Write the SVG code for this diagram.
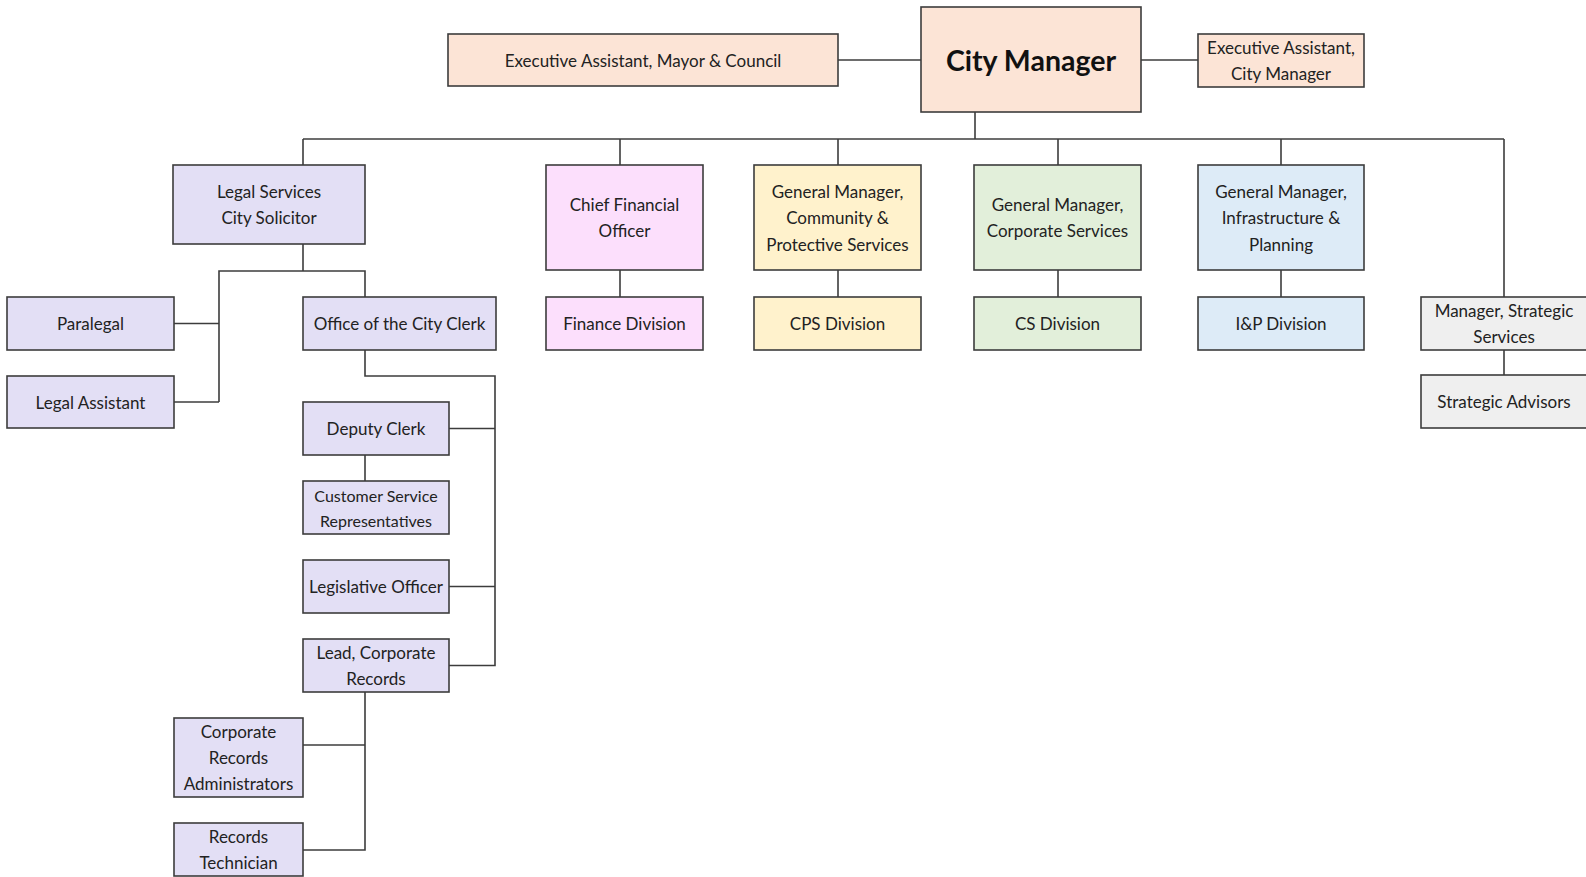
<svg xmlns="http://www.w3.org/2000/svg" width="1586" height="877" viewBox="0 0 1586 877">
<style>
.b{stroke:#3c3c3c;stroke-width:1.6}
.peach{fill:#fce4d6}.lav{fill:#e3dff5}.pink{fill:#fcdffc}.yel{fill:#fff2cc}.grn{fill:#e2efda}.blu{fill:#ddebf7}.gry{fill:#efefef}
text{font-family:Lato,"Open Sans","Liberation Sans",sans-serif;font-size:17px;fill:#222;text-anchor:middle;dominant-baseline:central}
.big{font-size:28.5px;font-weight:bold;fill:#111}
.sm{font-size:16px}
.c line,.c polyline{stroke:#3c3c3c;stroke-width:1.6;fill:none}
</style>
<rect width="1586" height="877" fill="#fff"/>
<g class="c" id="connectors">
<line x1="838" y1="60" x2="921" y2="60"/>
<line x1="1141" y1="60" x2="1198" y2="60"/>
<line x1="975" y1="112" x2="975" y2="139"/>
<line x1="303" y1="139" x2="1504" y2="139"/>
<line x1="303" y1="139" x2="303" y2="165"/>
<line x1="620" y1="139" x2="620" y2="165"/>
<line x1="838" y1="139" x2="838" y2="165"/>
<line x1="1058" y1="139" x2="1058" y2="165"/>
<line x1="1281" y1="139" x2="1281" y2="165"/>
<line x1="1504" y1="139" x2="1504" y2="297"/>
<line x1="620" y1="270" x2="620" y2="297"/>
<line x1="838" y1="270" x2="838" y2="297"/>
<line x1="1058" y1="270" x2="1058" y2="297"/>
<line x1="1281" y1="270" x2="1281" y2="297"/>
<line x1="1504" y1="350" x2="1504" y2="375"/>
<line x1="303" y1="244" x2="303" y2="271"/>
<polyline points="219,402 219,271 365,271 365,297"/>
<line x1="174" y1="323.5" x2="219" y2="323.5"/>
<line x1="174" y1="402" x2="219" y2="402"/>
<polyline points="365,350 365,376 495,376 495,665.5 449,665.5"/>
<line x1="449" y1="428.5" x2="495" y2="428.5"/>
<line x1="449" y1="586.5" x2="495" y2="586.5"/>
<line x1="365" y1="455" x2="365" y2="481"/>
<polyline points="365,692 365,850 303,850"/>
<line x1="303" y1="745" x2="365" y2="745"/>
</g>
<g id="exec-mayor"><rect class="b peach" x="448" y="34" width="390" height="52"/><text x="643" y="60">Executive Assistant, Mayor &amp; Council</text></g>
<g id="city-manager"><rect class="b peach" x="921" y="7" width="220" height="105"/><text class="big" x="1031" y="60">City Manager</text></g>
<g id="exec-cm"><rect class="b peach" x="1198" y="34" width="166" height="53"/><text x="1281" y="47.5">Executive Assistant,</text><text x="1281" y="73.5">City Manager</text></g>
<g id="legal"><rect class="b lav" x="173" y="165" width="192" height="79"/><text x="269" y="191.5">Legal Services</text><text x="269" y="217.5">City Solicitor</text></g>
<g id="cfo"><rect class="b pink" x="546" y="165" width="157" height="105"/><text x="624.5" y="204">Chief Financial</text><text x="624.5" y="230">Officer</text></g>
<g id="cps"><rect class="b yel" x="754" y="165" width="167" height="105"/><text x="837.5" y="191">General Manager,</text><text x="837.5" y="217.5">Community &amp;</text><text x="837.5" y="244">Protective Services</text></g>
<g id="cs"><rect class="b grn" x="974" y="165" width="167" height="105"/><text x="1057.5" y="204">General Manager,</text><text x="1057.5" y="230">Corporate Services</text></g>
<g id="inp"><rect class="b blu" x="1198" y="165" width="166" height="105"/><text x="1281" y="191">General Manager,</text><text x="1281" y="217.5">Infrastructure &amp;</text><text x="1281" y="244">Planning</text></g>
<g id="paralegal"><rect class="b lav" x="7" y="297" width="167" height="53"/><text x="90.5" y="323.5">Paralegal</text></g>
<g id="legal-assistant"><rect class="b lav" x="7" y="376" width="167" height="52"/><text x="90.5" y="402">Legal Assistant</text></g>
<g id="city-clerk"><rect class="b lav" x="303" y="297" width="193" height="53"/><text x="399.5" y="323.5">Office of the City Clerk</text></g>
<g id="finance"><rect class="b pink" x="546" y="297" width="157" height="53"/><text x="624.5" y="323.5">Finance Division</text></g>
<g id="cps-div"><rect class="b yel" x="754" y="297" width="167" height="53"/><text x="837.5" y="323.5">CPS Division</text></g>
<g id="cs-div"><rect class="b grn" x="974" y="297" width="167" height="53"/><text x="1057.5" y="323.5">CS Division</text></g>
<g id="inp-div"><rect class="b blu" x="1198" y="297" width="166" height="53"/><text x="1281" y="323.5">I&amp;P Division</text></g>
<g id="mgr-strategic"><rect class="b gry" x="1421" y="297" width="166" height="53"/><text x="1504" y="310.5">Manager, Strategic</text><text x="1504" y="336.5">Services</text></g>
<g id="strategic-advisors"><rect class="b gry" x="1421" y="375" width="166" height="53"/><text x="1504" y="401.5">Strategic Advisors</text></g>
<g id="deputy-clerk"><rect class="b lav" x="303" y="402" width="146" height="53"/><text x="376" y="428.5">Deputy Clerk</text></g>
<g id="csr"><rect class="b lav" x="303" y="481" width="146" height="53"/><text class="sm" x="376" y="495">Customer Service</text><text class="sm" x="376" y="520">Representatives</text></g>
<g id="legislative"><rect class="b lav" x="303" y="560" width="146" height="53"/><text x="376" y="586.5">Legislative Officer</text></g>
<g id="lead-records"><rect class="b lav" x="303" y="639" width="146" height="53"/><text x="376" y="652.5">Lead, Corporate</text><text x="376" y="678.5">Records</text></g>
<g id="corp-records-admin"><rect class="b lav" x="174" y="718" width="129" height="79"/><text x="238.5" y="731.5">Corporate</text><text x="238.5" y="757.5">Records</text><text x="238.5" y="783.5">Administrators</text></g>
<g id="records-tech"><rect class="b lav" x="174" y="823" width="129" height="53"/><text x="238.5" y="836.5">Records</text><text x="238.5" y="862.5">Technician</text></g>
</svg>
